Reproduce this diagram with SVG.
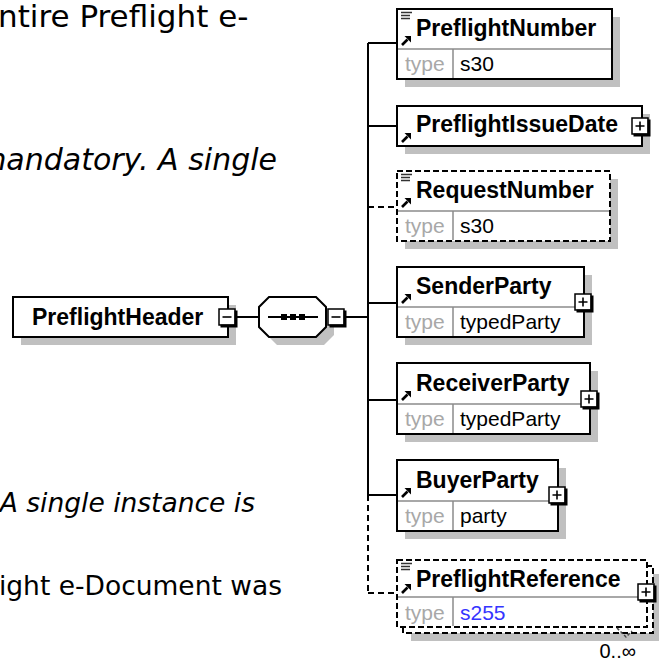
<svg xmlns="http://www.w3.org/2000/svg" width="659" height="661" viewBox="0 0 659 661">
<defs>
<style>
.desc{font-family:"DejaVu Sans","Liberation Sans",sans-serif;fill:#000}
.it{font-style:italic}
.box{fill:#fff;stroke:#000;stroke-width:2}
.dbox{fill:#fff;stroke:#000;stroke-width:2;stroke-dasharray:6,3}
.sh{fill:#c0c0c0}
.div{stroke:#8c8c8c;stroke-width:1.5;fill:none}
.name{font-family:"Liberation Sans",Arial,sans-serif;font-weight:bold;font-size:23px;fill:#000}
.tl{font-family:"Liberation Sans",Arial,sans-serif;font-size:21px;fill:#a8a8a8}
.tv{font-family:"Liberation Sans",Arial,sans-serif;font-size:21px;fill:#000}
.blue{fill:#3535ff}
.conn{stroke:#000;stroke-width:2;fill:none}
.dconn{stroke:#000;stroke-width:2;fill:none;stroke-dasharray:6,4}
.occ{font-family:"Liberation Sans",Arial,sans-serif;font-size:20px;fill:#000}
</style>
<g id="plus">
<rect x="0" y="0" width="16" height="16" fill="#fff" stroke="#000" stroke-width="1.5"/>
<path d="M1.5,17 H17 V1.5" stroke="#000" stroke-width="3" fill="none"/>
<path d="M3.5,8 H12.5 M8,3.5 V12.5" stroke="#000" stroke-width="1.6"/>
</g>
<g id="minus">
<rect x="0" y="0" width="16" height="16" fill="#fff" stroke="#000" stroke-width="1.5"/>
<path d="M1.5,17 H17 V1.5" stroke="#000" stroke-width="3" fill="none"/>
<path d="M3.5,8 H12.5" stroke="#000" stroke-width="1.6"/>
</g>
<g id="arrow">
<path d="M1,-1 L6.5,-6.5" stroke="#000" stroke-width="2.6"/>
<polygon points="3.5,-10 10,-10 10,-3.5" fill="#000"/>
</g>
<g id="simple">
<path d="M0,0.5 H11 M0,3.5 H9 M0,6.5 H9" stroke="#333" stroke-width="1.3"/>
</g>
</defs>

<g id="description">
<text class="desc" x="-2" y="27" font-size="31">ntire Preflight e-</text>
<text class="desc it" x="277" y="170" font-size="30" text-anchor="end">mandatory. A single</text>
<text class="desc it" x="255" y="512" font-size="26.5" text-anchor="end">A single instance is</text>
<text class="desc" x="282" y="595" font-size="26.5" text-anchor="end">ight e-Document was</text>
</g>

<g id="connectors">
<path class="conn" d="M237,317 H259"/>
<path class="conn" d="M346,317 H368"/>
<path class="conn" d="M368,43 V495"/>
<path class="dconn" d="M368,495 V593"/>
<path class="conn" d="M368,43 H397"/>
<path class="conn" d="M368,126 H397"/>
<path class="dconn" d="M368,207 H397"/>
<path class="conn" d="M368,303 H397"/>
<path class="conn" d="M368,400 H397"/>
<path class="conn" d="M368,495 H397"/>
<path class="dconn" d="M368,593 H397"/>
</g>

<g id="node-PreflightHeader">
<rect class="sh" x="21" y="305" width="215" height="40"/>
<rect class="box" x="13" y="297" width="215" height="40"/>
<text class="name" x="32" y="325">PreflightHeader</text>
<use href="#minus" x="219" y="309"/>
</g>

<g id="node-sequence">
<polygon class="sh" points="277,305 324,305 334,315 334,335 324,345 277,345 267,335 267,315"/>
<polygon class="box" points="269,297 316,297 326,307 326,327 316,337 269,337 259,327 259,307"/>
<path d="M268,317 H318" stroke="#000" stroke-width="1.8"/>
<rect x="281" y="314" width="6" height="6" fill="#000"/>
<rect x="290" y="314" width="6" height="6" fill="#000"/>
<rect x="299" y="314" width="6" height="6" fill="#000"/>
<use href="#minus" x="328" y="309"/>
</g>

<g id="node-PreflightNumber">
<rect class="sh" x="405" y="17" width="215" height="70"/>
<rect class="box" x="397" y="9" width="215" height="70"/>
<path class="div" d="M398,49 H611 M453,49 V78"/>
<use href="#simple" x="401" y="12"/>
<use href="#arrow" x="401" y="46"/>
<text class="name" x="416" y="36">PreflightNumber</text>
<text class="tl" x="405" y="71">type</text>
<text class="tv" x="460" y="71">s30</text>
</g>

<g id="node-PreflightIssueDate">
<rect class="sh" x="405" y="114" width="245" height="40"/>
<rect class="box" x="397" y="106" width="245" height="40"/>
<use href="#arrow" x="401" y="143"/>
<text class="name" x="416" y="132">PreflightIssueDate</text>
<use href="#plus" x="632" y="118"/>
</g>

<g id="node-RequestNumber">
<rect class="sh" x="405" y="179" width="213" height="70"/>
<rect class="dbox" x="397" y="171" width="213" height="70"/>
<path class="div" d="M398,211 H609 M453,211 V240"/>
<use href="#simple" x="401" y="174"/>
<use href="#arrow" x="401" y="208"/>
<text class="name" x="416" y="198">RequestNumber</text>
<text class="tl" x="405" y="233">type</text>
<text class="tv" x="460" y="233">s30</text>
</g>

<g id="node-SenderParty">
<rect class="sh" x="405" y="275" width="187" height="70"/>
<rect class="box" x="397" y="267" width="187" height="70"/>
<path class="div" d="M398,307 H583 M453,307 V336"/>
<use href="#arrow" x="401" y="304"/>
<text class="name" x="416" y="294">SenderParty</text>
<text class="tl" x="405" y="329">type</text>
<text class="tv" x="460" y="329">typedParty</text>
<use href="#plus" x="575" y="294"/>
</g>

<g id="node-ReceiverParty">
<rect class="sh" x="405" y="371" width="193" height="71"/>
<rect class="box" x="397" y="363" width="193" height="71"/>
<path class="div" d="M398,404 H589 M453,404 V433"/>
<use href="#arrow" x="401" y="401"/>
<text class="name" x="416" y="391">ReceiverParty</text>
<text class="tl" x="405" y="426">type</text>
<text class="tv" x="460" y="426">typedParty</text>
<use href="#plus" x="581" y="391"/>
</g>

<g id="node-BuyerParty">
<rect class="sh" x="405" y="468" width="161" height="71"/>
<rect class="box" x="397" y="460" width="161" height="71"/>
<path class="div" d="M398,501 H557 M453,501 V530"/>
<use href="#arrow" x="401" y="498"/>
<text class="name" x="416" y="488">BuyerParty</text>
<text class="tl" x="405" y="523">type</text>
<text class="tv" x="460" y="523">party</text>
<use href="#plus" x="549" y="487"/>
</g>

<g id="node-PreflightReference">
<rect class="sh" x="411" y="574" width="250" height="67"/>
<rect class="dbox" x="403" y="566" width="250" height="67"/>
<rect class="dbox" x="397" y="560" width="250" height="67"/>
<path class="div" d="M398,597 H646 M453,597 V626"/>
<use href="#simple" x="401" y="563"/>
<use href="#arrow" x="401" y="594"/>
<text class="name" x="416" y="587">PreflightReference</text>
<text class="tl" x="405" y="620">type</text>
<text class="tv blue" x="460" y="620">s255</text>
<use href="#plus" x="638" y="584"/>
<polyline points="617,628 626,637 632,631" fill="none" stroke="#444" stroke-width="1.5" stroke-dasharray="3,2"/>
<text class="occ" x="636" y="658" text-anchor="end">0..∞</text>
</g>
</svg>
